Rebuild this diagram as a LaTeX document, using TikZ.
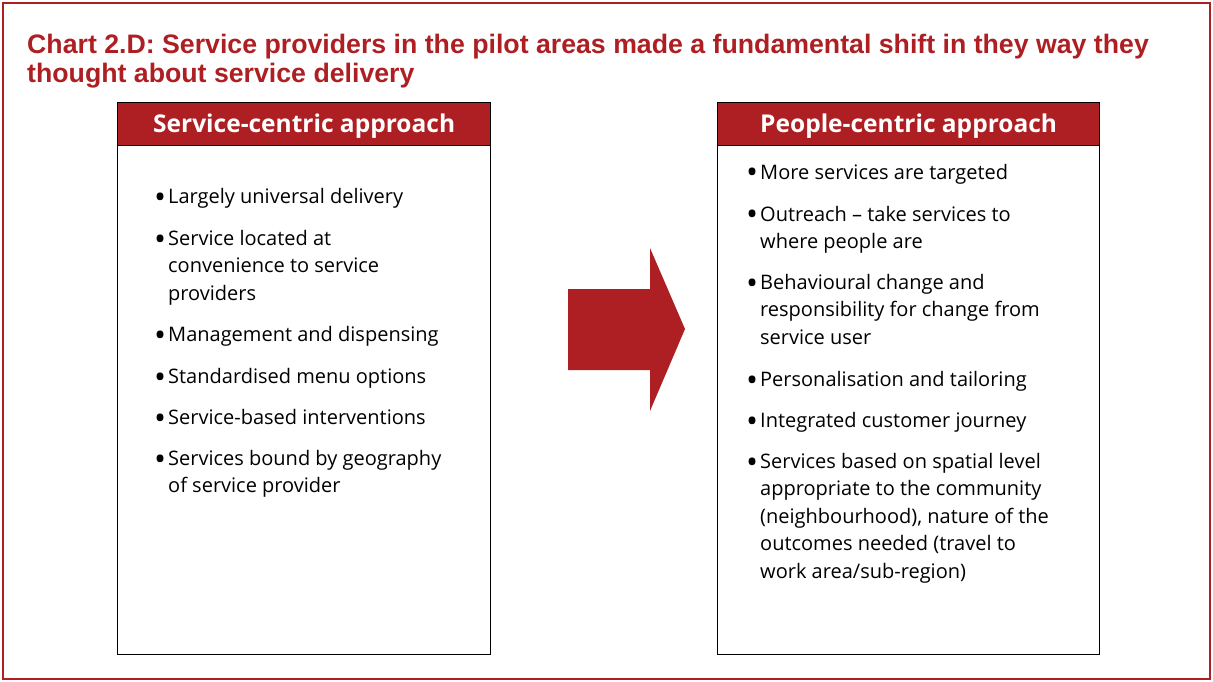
\documentclass[tikz,border=0pt]{standalone}
\usepackage{fontspec}
\setmainfont{Liberation Sans}
\newfontfamily\bodyfont{Open Sans}
\definecolor{chartred}{RGB}{173,31,34}
\newcommand\bdot{\raisebox{-5pt}{\scalebox{1.6}{•}}}
\newcommand\blist[1]{\begin{tabular}[t]{@{}p{14pt}@{}l@{}}#1\end{tabular}}
\tikzset{
  frameline/.style={draw=chartred, line width=2.5pt},
  titletext/.style={text=chartred, font=\fontsize{26.7}{29}\selectfont\bfseries, inner sep=0pt, anchor=base west},
  panel/.style={draw=black, line width=1.3pt, fill=white, anchor=north west, inner sep=0pt},
  header/.style={draw=black, line width=1.3pt, fill=chartred, text=white, anchor=north west, inner sep=0pt, minimum height=43pt, text height=17.5pt, text depth=0pt, font=\bodyfont\fontsize{24.5}{29}\selectfont\bfseries},
  itemtext/.style={font=\bodyfont\fontsize{20}{27.5}\selectfont, inner sep=0pt, anchor=base west},
  bigarrow/.style={fill=chartred}
}
\begin{document}
\begin{tikzpicture}[x=1pt,y=-1pt]
\useasboundingbox (0,0) rectangle (1213,682);
\draw[frameline] (3,3) rectangle (1210,679);
\node[titletext] (title) at (27,54) {\begin{tabular}[t]{@{}l@{}}Chart 2.D: Service providers in the pilot areas made a fundamental shift in they way they\\thought about service delivery\end{tabular}};

% left panel
\node[panel, minimum width=373pt, minimum height=552pt] (lbox) at (117,102) {};
\node[header, minimum width=373pt] (lhead) at (117,102) {Service-centric approach};
\node[itemtext] (l1) at (154,204) {\blist{\bdot&Largely universal delivery}};
\node[itemtext] (l2) at (154,245) {\blist{\bdot&Service located at\\&convenience to service\\&providers}};
\node[itemtext] (l3) at (154,341) {\blist{\bdot&Management and dispensing}};
\node[itemtext] (l4) at (154,383) {\blist{\bdot&Standardised menu options}};
\node[itemtext] (l5) at (154,424) {\blist{\bdot&Service-based interventions}};
\node[itemtext] (l6) at (154,465) {\blist{\bdot&Services bound by geography\\&of service provider}};

% arrow
\fill[bigarrow] (568,289) -- (650,289) -- (650,248) -- (685,329) -- (650,411) -- (650,370) -- (568,370) -- cycle;

% right panel
\node[panel, minimum width=382pt, minimum height=552pt] (rbox) at (717,102) {};
\node[header, minimum width=382pt] (rhead) at (717,102) {People-centric approach};
\node[itemtext] (r1) at (746,179) {\blist{\bdot&More services are targeted}};
\node[itemtext] (r2) at (746,221) {\blist{\bdot&Outreach – take services to\\&where people are}};
\node[itemtext] (r3) at (746,289) {\blist{\bdot&Behavioural change and\\&responsibility for change from\\&service user}};
\node[itemtext] (r4) at (746,386) {\blist{\bdot&Personalisation and tailoring}};
\node[itemtext] (r5) at (746,427) {\blist{\bdot&Integrated customer journey}};
\node[itemtext] (r6) at (746,468) {\blist{\bdot&Services based on spatial level\\&appropriate to the community\\&(neighbourhood), nature of the\\&outcomes needed (travel to\\&work area/sub-region)}};
\end{tikzpicture}
\end{document}
